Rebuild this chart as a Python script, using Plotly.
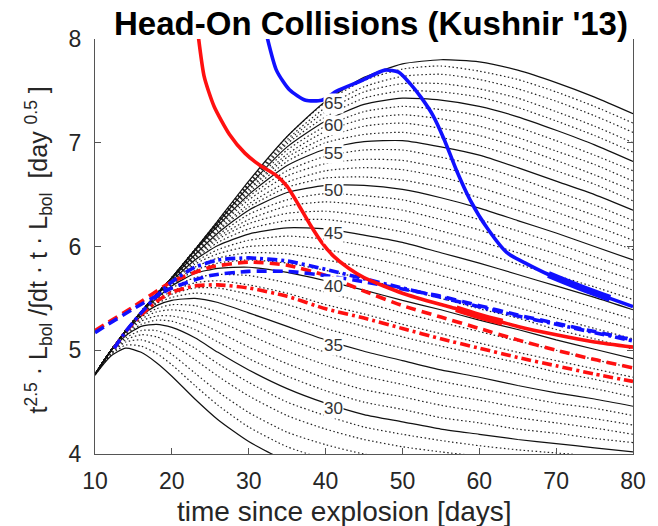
import plotly.graph_objects as go

# ---------------- data ----------------
# common time grid of the model family [days]
T = [10, 12, 14, 16, 18, 20, 23, 26, 30, 35, 40, 45, 50, 55, 60, 65, 70, 75, 80]

# model curves, one per gamma-ray escape time t0 (solid every 5, dotted between)
y25 = [4.76, 4.94, 5.02, 4.98, 4.88, 4.75, 4.53, 4.33, 4.12, 3.93, 3.82, 3.75, 3.71, 3.68, 3.66, 3.65, 3.64, 3.63, 3.62]
y26 = [4.76, 4.95, 5.05, 5.04, 4.97, 4.86, 4.66, 4.47, 4.26, 4.07, 3.95, 3.87, 3.82, 3.79, 3.76, 3.74, 3.73, 3.71, 3.70]
y27 = [4.77, 4.96, 5.08, 5.10, 5.05, 4.96, 4.78, 4.60, 4.40, 4.21, 4.09, 4.00, 3.95, 3.90, 3.87, 3.84, 3.82, 3.80, 3.78]
y28 = [4.77, 4.97, 5.10, 5.15, 5.13, 5.06, 4.91, 4.75, 4.56, 4.37, 4.24, 4.14, 4.07, 4.02, 3.98, 3.94, 3.92, 3.89, 3.86]
y29 = [4.77, 4.98, 5.12, 5.19, 5.19, 5.14, 5.02, 4.87, 4.69, 4.50, 4.37, 4.26, 4.19, 4.13, 4.08, 4.04, 4.01, 3.98, 3.94]
y30 = [4.77, 4.99, 5.14, 5.23, 5.25, 5.22, 5.12, 4.98, 4.81, 4.63, 4.49, 4.38, 4.31, 4.24, 4.19, 4.14, 4.10, 4.06, 4.02]
y31 = [4.77, 4.99, 5.15, 5.25, 5.29, 5.28, 5.20, 5.08, 4.92, 4.75, 4.61, 4.50, 4.43, 4.35, 4.30, 4.24, 4.20, 4.15, 4.11]
y32 = [4.77, 4.99, 5.16, 5.28, 5.33, 5.33, 5.28, 5.18, 5.03, 4.87, 4.73, 4.62, 4.55, 4.47, 4.41, 4.35, 4.30, 4.25, 4.19]
y33 = [4.77, 4.99, 5.17, 5.30, 5.37, 5.39, 5.36, 5.28, 5.15, 4.99, 4.86, 4.75, 4.67, 4.58, 4.52, 4.45, 4.39, 4.34, 4.28]
y34 = [4.77, 4.99, 5.17, 5.32, 5.40, 5.44, 5.43, 5.37, 5.26, 5.11, 4.98, 4.87, 4.78, 4.70, 4.63, 4.56, 4.49, 4.44, 4.37]
y35 = [4.77, 4.99, 5.18, 5.33, 5.43, 5.48, 5.50, 5.46, 5.36, 5.23, 5.10, 4.99, 4.90, 4.81, 4.74, 4.66, 4.59, 4.53, 4.46]
y36 = [4.77, 4.99, 5.18, 5.34, 5.45, 5.51, 5.55, 5.53, 5.45, 5.34, 5.21, 5.11, 5.02, 4.93, 4.85, 4.77, 4.69, 4.63, 4.55]
y37 = [4.77, 4.99, 5.18, 5.35, 5.46, 5.54, 5.60, 5.60, 5.54, 5.44, 5.33, 5.23, 5.13, 5.04, 4.96, 4.88, 4.79, 4.72, 4.64]
y38 = [4.77, 4.99, 5.19, 5.35, 5.48, 5.57, 5.65, 5.67, 5.63, 5.55, 5.44, 5.35, 5.25, 5.16, 5.07, 4.98, 4.90, 4.82, 4.74]
y39 = [4.77, 4.99, 5.19, 5.36, 5.49, 5.60, 5.70, 5.73, 5.72, 5.65, 5.56, 5.46, 5.36, 5.27, 5.18, 5.09, 5.00, 4.91, 4.83]
y40 = [4.77, 4.99, 5.19, 5.36, 5.50, 5.62, 5.74, 5.79, 5.80, 5.75, 5.67, 5.58, 5.48, 5.39, 5.29, 5.20, 5.10, 5.01, 4.92]
y41 = [4.77, 4.99, 5.19, 5.37, 5.51, 5.63, 5.77, 5.84, 5.87, 5.84, 5.77, 5.69, 5.59, 5.50, 5.40, 5.31, 5.20, 5.11, 5.01]
y42 = [4.77, 4.99, 5.19, 5.37, 5.52, 5.64, 5.80, 5.89, 5.94, 5.93, 5.87, 5.80, 5.70, 5.61, 5.51, 5.41, 5.31, 5.21, 5.11]
y43 = [4.77, 4.99, 5.19, 5.37, 5.52, 5.65, 5.83, 5.93, 6.00, 6.01, 5.97, 5.90, 5.82, 5.72, 5.62, 5.52, 5.41, 5.31, 5.20]
y44 = [4.77, 4.99, 5.19, 5.37, 5.53, 5.66, 5.85, 5.97, 6.06, 6.10, 6.07, 6.01, 5.93, 5.83, 5.73, 5.62, 5.52, 5.41, 5.30]
y45 = [4.77, 4.99, 5.19, 5.37, 5.53, 5.67, 5.87, 6.01, 6.12, 6.18, 6.17, 6.11, 6.04, 5.94, 5.84, 5.73, 5.62, 5.51, 5.39]
y46 = [4.77, 4.99, 5.19, 5.37, 5.54, 5.68, 5.88, 6.04, 6.17, 6.25, 6.26, 6.21, 6.14, 6.05, 5.95, 5.83, 5.72, 5.61, 5.49]
y47 = [4.77, 4.99, 5.19, 5.37, 5.54, 5.68, 5.89, 6.07, 6.22, 6.32, 6.34, 6.30, 6.25, 6.15, 6.05, 5.94, 5.82, 5.70, 5.58]
y48 = [4.77, 4.99, 5.19, 5.37, 5.54, 5.69, 5.90, 6.09, 6.26, 6.39, 6.43, 6.40, 6.35, 6.26, 6.16, 6.04, 5.93, 5.80, 5.68]
y49 = [4.77, 4.99, 5.19, 5.37, 5.54, 5.69, 5.91, 6.11, 6.31, 6.45, 6.51, 6.49, 6.45, 6.36, 6.26, 6.15, 6.03, 5.90, 5.77]
y50 = [4.77, 4.99, 5.19, 5.37, 5.54, 5.69, 5.92, 6.13, 6.35, 6.52, 6.59, 6.59, 6.55, 6.47, 6.37, 6.25, 6.13, 6.00, 5.87]
y51 = [4.77, 4.99, 5.19, 5.37, 5.54, 5.70, 5.93, 6.15, 6.38, 6.57, 6.66, 6.67, 6.64, 6.57, 6.47, 6.35, 6.23, 6.10, 5.97]
y52 = [4.77, 4.99, 5.19, 5.37, 5.54, 5.70, 5.94, 6.16, 6.41, 6.62, 6.73, 6.76, 6.74, 6.67, 6.57, 6.45, 6.33, 6.20, 6.06]
y53 = [4.77, 4.99, 5.19, 5.37, 5.54, 5.70, 5.95, 6.18, 6.45, 6.68, 6.80, 6.84, 6.83, 6.76, 6.68, 6.56, 6.43, 6.30, 6.16]
y54 = [4.77, 4.99, 5.19, 5.37, 5.54, 5.70, 5.95, 6.19, 6.48, 6.73, 6.87, 6.93, 6.93, 6.86, 6.78, 6.66, 6.53, 6.40, 6.25]
y55 = [4.77, 4.99, 5.19, 5.37, 5.54, 5.70, 5.96, 6.20, 6.50, 6.78, 6.94, 7.01, 7.02, 6.96, 6.88, 6.76, 6.63, 6.50, 6.35]
y56 = [4.77, 4.99, 5.19, 5.37, 5.54, 5.70, 5.96, 6.21, 6.52, 6.82, 7.00, 7.08, 7.10, 7.05, 6.97, 6.86, 6.73, 6.60, 6.44]
y57 = [4.77, 4.99, 5.19, 5.37, 5.54, 5.70, 5.97, 6.21, 6.54, 6.86, 7.05, 7.16, 7.19, 7.14, 7.07, 6.96, 6.83, 6.69, 6.54]
y58 = [4.77, 4.99, 5.19, 5.37, 5.54, 5.70, 5.97, 6.22, 6.55, 6.89, 7.11, 7.23, 7.27, 7.23, 7.16, 7.05, 6.92, 6.79, 6.63]
y59 = [4.77, 4.99, 5.19, 5.37, 5.54, 5.70, 5.97, 6.22, 6.57, 6.93, 7.16, 7.30, 7.35, 7.32, 7.26, 7.15, 7.02, 6.88, 6.73]
y60 = [4.77, 4.99, 5.19, 5.37, 5.54, 5.70, 5.97, 6.23, 6.58, 6.96, 7.21, 7.37, 7.43, 7.41, 7.35, 7.25, 7.12, 6.98, 6.82]
y61 = [4.77, 4.99, 5.19, 5.37, 5.54, 5.70, 5.97, 6.23, 6.59, 6.99, 7.25, 7.43, 7.50, 7.49, 7.44, 7.34, 7.21, 7.07, 6.91]
y62 = [4.77, 4.99, 5.19, 5.37, 5.54, 5.70, 5.97, 6.24, 6.60, 7.01, 7.30, 7.49, 7.57, 7.57, 7.52, 7.43, 7.30, 7.16, 7.00]
y63 = [4.77, 4.99, 5.19, 5.37, 5.54, 5.70, 5.97, 6.24, 6.61, 7.03, 7.34, 7.54, 7.64, 7.66, 7.61, 7.52, 7.40, 7.26, 7.10]
y64 = [4.77, 4.99, 5.19, 5.37, 5.54, 5.70, 5.97, 6.25, 6.62, 7.06, 7.39, 7.60, 7.71, 7.74, 7.69, 7.61, 7.49, 7.35, 7.19]
y65 = [4.77, 4.99, 5.19, 5.37, 5.54, 5.70, 5.97, 6.25, 6.63, 7.06, 7.40, 7.63, 7.76, 7.80, 7.78, 7.70, 7.58, 7.44, 7.28]

family = {25: y25, 26: y26, 27: y27, 28: y28, 29: y29, 30: y30, 31: y31, 32: y32, 33: y33,
          34: y34, 35: y35, 36: y36, 37: y37, 38: y38, 39: y39, 40: y40, 41: y41, 42: y42,
          43: y43, 44: y44, 45: y45, 46: y46, 47: y47, 48: y48, 49: y49, 50: y50, 51: y51,
          52: y52, 53: y53, 54: y54, 55: y55, 56: y56, 57: y57, 58: y58, 59: y59, 60: y60,
          61: y61, 62: y62, 63: y63, 64: y64, 65: y65}

# contour-style labels on the solid curves
label_values = [30, 35, 40, 45, 50, 55, 60, 65]
label_t = [41, 41, 41, 41, 41, 41, 41, 41]
label_y = [4.44, 5.05, 5.61, 6.13, 6.54, 6.90, 7.17, 7.38]

# observed objects
red_solid_t = [23.0, 24.2, 25.5, 27.5, 29.5, 31.5, 33.5, 35.0, 36.5, 38.0, 39.5, 41.0, 43.0, 45.0, 50.0, 55.0, 57.0, 60.0, 63.0, 65.0, 70.0, 75.0, 80.0]
red_solid_y = [8.30, 7.64, 7.35, 7.08, 6.90, 6.78, 6.69, 6.58, 6.40, 6.21, 6.04, 5.91, 5.79, 5.70, 5.55, 5.44, 5.40, 5.33, 5.27, 5.23, 5.15, 5.08, 5.03]
blue_solid_t = [31.5, 33.6, 35.3, 37.4, 39.5, 41.5, 44.7, 47.7, 49.5, 51.0, 52.5, 54.0, 55.5, 57.0, 58.8, 61.0, 63.6, 66.0, 69.0, 73.0, 77.0, 80.0]
blue_solid_y = [8.30, 7.70, 7.51, 7.41, 7.41, 7.50, 7.60, 7.70, 7.68, 7.57, 7.43, 7.26, 7.02, 6.74, 6.45, 6.18, 5.94, 5.84, 5.73, 5.61, 5.50, 5.42]

red_dash_t = [10, 15, 20, 25, 30, 35, 40, 45, 50, 55, 60, 65, 70, 75, 80]
red_dash_y = [5.19, 5.42, 5.66, 5.80, 5.85, 5.82, 5.72, 5.57, 5.43, 5.32, 5.21, 5.10, 5.00, 4.91, 4.83]
blue_dash_t = [10, 15, 20, 25, 30, 35, 40, 45, 50, 55, 60, 65, 70, 75, 80]
blue_dash_y = [5.17, 5.40, 5.60, 5.72, 5.76, 5.76, 5.72, 5.66, 5.59, 5.52, 5.43, 5.34, 5.26, 5.18, 5.10]
blue_dashdot_t = [12.5, 14, 16, 18, 20, 23, 26, 30, 35, 40, 45, 50, 55, 60, 65, 70, 75, 80]
blue_dashdot_y = [5.02, 5.18, 5.36, 5.52, 5.66, 5.80, 5.87, 5.89, 5.86, 5.78, 5.69, 5.60, 5.51, 5.42, 5.33, 5.25, 5.17, 5.09]
red_dashdot_t = [12.5, 14, 16, 18, 20, 23, 26, 30, 35, 40, 45, 50, 55, 60, 65, 70, 75, 80]
red_dashdot_y = [5.02, 5.18, 5.34, 5.47, 5.56, 5.62, 5.63, 5.60, 5.52, 5.40, 5.31, 5.21, 5.11, 5.02, 4.93, 4.85, 4.77, 4.70]

x_ticks = [10, 20, 30, 40, 50, 60, 70, 80]
y_ticks = [4, 5, 6, 7, 8]

FONT = "Liberation Sans, Arial, Helvetica, sans-serif"

# ---------------- figure ----------------
fig = go.Figure()

# dotted members first, solid ones on top
for t0, ys in family.items():
    if t0 % 5 != 0:
        fig.add_trace(go.Scatter(x=T, y=ys, mode="lines",
                                 line=dict(color="#222222", width=1.2, dash="1.5px,2.5px",
                                           shape="spline", smoothing=0.6),
                                 hoverinfo="skip", showlegend=False))
for t0, ys in family.items():
    if t0 % 5 == 0:
        fig.add_trace(go.Scatter(x=T, y=ys, mode="lines",
                                 line=dict(color="#111111", width=1.2,
                                           shape="spline", smoothing=0.6),
                                 hoverinfo="skip", showlegend=False))

W = 3.6
def colored(x, y, color, dash):
    fig.add_trace(go.Scatter(x=x, y=y, mode="lines",
                             line=dict(color=color, width=W, dash=dash,
                                       shape="spline", smoothing=0.6),
                             hoverinfo="skip", showlegend=False))

colored(red_dashdot_t, red_dashdot_y, "#ff1010", "10px,4px,3px,4px")
colored(red_dash_t, red_dash_y, "#ff1010", "10px,6px")
colored(blue_dash_t, blue_dash_y, "#1010ff", "10px,6px")
colored(blue_dashdot_t, blue_dashdot_y, "#1010ff", "10px,4px,3px,4px")
colored(red_solid_t, red_solid_y, "#ff1010", "solid")
colored(blue_solid_t, blue_solid_y, "#1010ff", "solid")

# thicker stretches of the two solid curves
red_band = [i for i, t in enumerate(red_solid_t) if 56 <= t <= 64]
blue_band = [i for i, t in enumerate(blue_solid_t) if 68 <= t <= 78]
fig.add_trace(go.Scatter(x=[red_solid_t[i] for i in red_band], y=[red_solid_y[i] for i in red_band],
                         mode="lines", line=dict(color="#ff1010", width=7, shape="spline"),
                         hoverinfo="skip", showlegend=False))
fig.add_trace(go.Scatter(x=[blue_solid_t[i] for i in blue_band], y=[blue_solid_y[i] for i in blue_band],
                         mode="lines", line=dict(color="#1010ff", width=7, shape="spline"),
                         hoverinfo="skip", showlegend=False))

annotations = []
for v, tx, ty in zip(label_values, label_t, label_y):
    annotations.append(dict(x=tx, y=ty, xref="x", yref="y", text=str(v), showarrow=False,
                            font=dict(family=FONT, size=17, color="#333333"),
                            bgcolor="white", borderpad=0))

# axis titles
annotations.append(dict(x=0.5, y=0, xref="paper", yref="paper", yanchor="middle",
                        xshift=-20, yshift=-57, showarrow=False,
                        text="time since explosion [days]",
                        font=dict(family=FONT, size=28, color="#262626")))
annotations.append(dict(x=0, y=0.5, xref="paper", yref="paper", xanchor="center",
                        xshift=-57, yshift=-4, textangle=-90, showarrow=False,
                        text="t<sup>2.5</sup> · L<sub>bol</sub> /∫dt · t · L<sub>bol</sub>  [day <sup>0.5</sup> ]",
                        font=dict(family=FONT, size=25, color="#262626")))

fig.update_layout(
    width=658, height=526,
    margin=dict(l=95, r=14, t=39, b=72),
    paper_bgcolor="white", plot_bgcolor="white",
    title=dict(text="<b>Head-On Collisions (Kushnir '13)</b>", x=0.513, xref="paper",
               xanchor="center", y=1 - 23 / 526, yanchor="middle",
               font=dict(family=FONT, size=33, color="black")),
    annotations=annotations,
    showlegend=False,
)
fig.update_xaxes(range=[10, 80], tickvals=x_ticks, ticks="inside", ticklen=6,
                 tickcolor="#555555", showline=True, linecolor="#555555", linewidth=1,
                 showgrid=False, zeroline=False, ticklabelstandoff=6,
                 tickfont=dict(family=FONT, size=23, color="#262626"))
fig.update_yaxes(range=[4, 8], tickvals=y_ticks, ticks="inside", ticklen=6,
                 tickcolor="#555555", showline=True, linecolor="#555555", linewidth=1,
                 mirror="ticks", showgrid=False, zeroline=False, ticklabelstandoff=8,
                 tickfont=dict(family=FONT, size=23, color="#262626"))

fig.write_html("out.html")
